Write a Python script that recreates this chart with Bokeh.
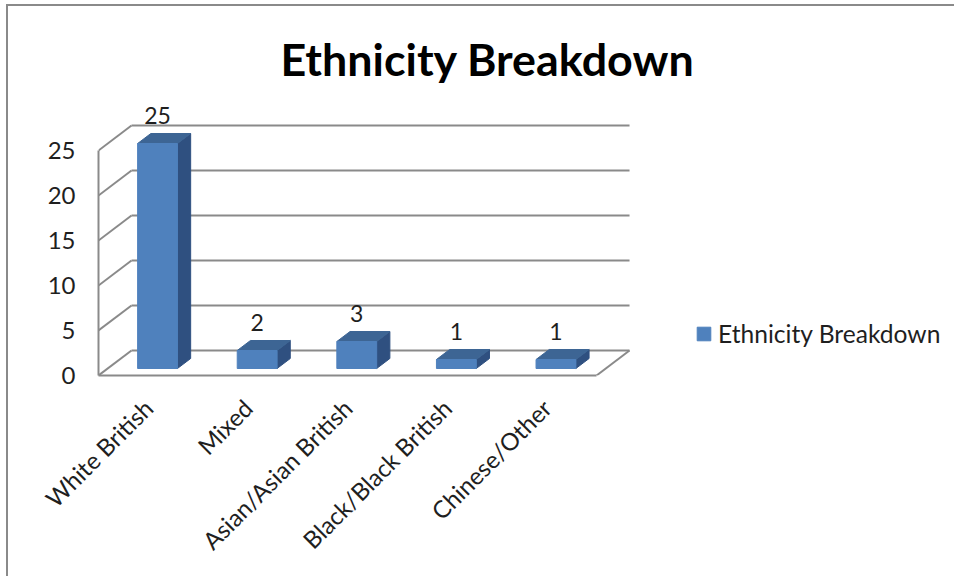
from bokeh.plotting import figure
from bokeh.embed import file_html
from bokeh.resources import INLINE
from bokeh.models import (Range1d, FixedTicker, Legend, LegendItem, Title, ColumnDataSource)
from bokeh.core.properties import value
import math

title_text = "Ethnicity Breakdown"
series_name = "Ethnicity Breakdown"
categories = ["White British", "Mixed", "Asian/Asian British", "Black/Black British", "Chinese/Other"]
values = [25, 2, 3, 1, 1]
y_ticks = [0, 5, 10, 15, 20, 25]

FONT = "Lato"
GRAY = "#8a8a8a"
TEXT = "#1f1f1f"
FRONT, TOP, SIDE = "#4f81bd", "#3d6594", "#2f5080"

# oblique projection: depth offsets in data units
DX = 33 / 99.6
DY = 25 / 9
BAR_W = 0.40
D0, D1 = 0.28, 0.68

p = figure(width=948, height=572, output_backend="svg", toolbar_location=None,
           x_range=Range1d(0, 8.614), y_range=Range1d(0, 30.556),
           min_border_left=90, min_border_right=0, min_border_top=94, min_border_bottom=203,
           margin=(4, 0, 0, 6),
           styles={"border-left": "2px solid #8a8a8a", "border-top": "2px solid #8a8a8a"})
p.outline_line_color = None
p.grid.visible = False
p.background_fill_color = "white"

p.title = Title(text=title_text, text_font=FONT, text_font_size="44.8px", text_font_style="bold",
                text_color="#000000", align="left", offset=182, standoff=29)

# axes
xa, ya = p.xaxis[0], p.yaxis[0]
centers = [i + 0.5 for i in range(len(categories))]
xa.ticker = FixedTicker(ticks=centers)
xa.major_label_overrides = {c: n for c, n in zip(centers, categories)}
xa.major_label_orientation = math.pi / 4
xa.bounds = (0, len(categories))
ya.ticker = FixedTicker(ticks=y_ticks)
ya.bounds = (0, 25)
for a in (xa, ya):
    a.axis_line_color = GRAY
    a.axis_line_width = 2
    a.major_tick_line_color = None
    a.minor_tick_line_color = None
    a.major_tick_out = 0
    a.major_tick_in = 0
    a.minor_tick_out = 0
    a.major_label_text_font = FONT
    a.major_label_text_font_size = "24px"
    a.major_label_text_color = TEXT
xa.major_label_standoff = 28
ya.major_label_standoff = 23

# walls
n = len(categories)
p.multi_line([[0, DX] for _ in y_ticks], [[t, t + DY] for t in y_ticks], line_color=GRAY, line_width=2)
p.multi_line([[DX, n + DX] for _ in y_ticks], [[t + DY, t + DY] for t in y_ticks], line_color=GRAY, line_width=2)
p.line([n, n + DX], [0, DY], line_color=GRAY, line_width=2)

# bars
lefts = [i + 0.5 - BAR_W / 2 + D0 * DX for i in range(n)]
rights = [l + BAR_W for l in lefts]
bases = [D0 * DY] * n
tops = [v + D0 * DY for v in values]
d = (D1 - D0)
top_xs = [[l, r, r + d * DX, l + d * DX] for l, r in zip(lefts, rights)]
top_ys = [[t, t, t + d * DY, t + d * DY] for t in tops]
side_xs = [[r, r + d * DX, r + d * DX, r] for r in rights]
side_ys = [[b, b + d * DY, t + d * DY, t] for b, t in zip(bases, tops)]
p.patches(side_xs, side_ys, fill_color=SIDE, line_color=SIDE)
p.patches(top_xs, top_ys, fill_color=TOP, line_color=TOP)
front = p.quad(left=lefts, right=rights, bottom=bases, top=tops, fill_color=FRONT, line_color=FRONT)

# value labels
src = ColumnDataSource(dict(x=[(l + r) / 2 for l, r in zip(lefts, rights)], y=tops,
                            t=[str(v) for v in values]))
p.text("x", "y", text="t", source=src, text_font=value(FONT), text_font_size="23px",
       text_color=TEXT, text_align="center", text_baseline="alphabetic", y_offset=-28)

# legend
leg = Legend(items=[LegendItem(label=series_name, renderers=[front])], location=(597, 27),
             border_line_color=None, background_fill_alpha=0, glyph_width=17, glyph_height=17,
             label_text_font=FONT, label_text_font_size="24.6px", label_text_color=TEXT,
             padding=0, margin=0, label_standoff=6)
p.add_layout(leg, "center")

open("out.html", "w").write(file_html(p, INLINE))
